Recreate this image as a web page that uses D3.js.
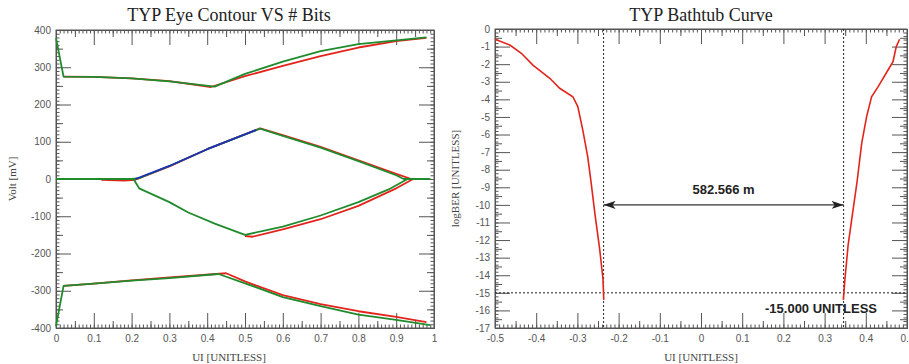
<!DOCTYPE html>
<html>
<head>
<meta charset="utf-8">
<script src="https://cdn.jsdelivr.net/npm/d3@7"></script>
<style>
    body { margin: 0; background: #fff; }
    .tick text { font-family: "Liberation Sans", Arial, sans-serif; font-size: 10px; fill: #555; }
</style>
</head>
<body>
<svg id="chart" width="909" height="364"></svg>
<script>
// eye contour traces, [UI, mV]
const greenTop = [[0, 378], [0.02, 275], [0.1, 274], [0.2, 270], [0.3, 262], [0.42, 248], [0.5, 282], [0.6, 315], [0.7, 343], [0.8, 362], [0.9, 372], [0.98, 380]]
const redTop = [[0.02, 275], [0.1, 274], [0.2, 270], [0.3, 263], [0.41, 247], [0.5, 276], [0.6, 304], [0.7, 330], [0.8, 353], [0.9, 370], [0.98, 379]]
const greenUpper = [[0, 0], [0.2, 0], [0.22, 2], [0.3, 35], [0.4, 80], [0.54, 135], [0.6, 116], [0.7, 84], [0.8, 48], [0.9, 10], [0.92, 0], [0.99, 0]]
const redUpper = [[0.12, -2], [0.18, -4], [0.21, -2], [0.3, 34], [0.4, 80], [0.54, 136], [0.6, 118], [0.7, 86], [0.8, 50], [0.9, 14], [0.94, 0], [0.99, 0]]
const blueUpper = [[0.21, 0], [0.3, 35], [0.4, 80], [0.53, 132]]
const greenLower = [[0.205, 0], [0.22, -25], [0.3, -62], [0.35, -90], [0.42, -120], [0.5, -150], [0.6, -128], [0.7, -98], [0.8, -62], [0.88, -28], [0.93, 0]]
const redLower = [[0.5, -153], [0.52, -155], [0.6, -135], [0.7, -108], [0.8, -72], [0.9, -25], [0.945, 0]]
const greenBottom = [[0, -395], [0.02, -287], [0.1, -281], [0.2, -273], [0.3, -266], [0.43, -255], [0.5, -280], [0.6, -317], [0.7, -341], [0.8, -364], [0.9, -378], [0.99, -392]]
const redBottom = [[0.02, -287], [0.1, -281], [0.2, -272], [0.3, -264], [0.45, -253], [0.5, -275], [0.6, -312], [0.7, -336], [0.8, -355], [0.9, -370], [0.98, -384]]

// bathtub curve, [UI, logBER]
const bathtubLeft = [[-0.5, -0.58], [-0.464, -0.91], [-0.436, -1.38], [-0.408, -2.05], [-0.367, -2.8], [-0.343, -3.37], [-0.311, -3.85], [-0.299, -4.41], [-0.287, -5.74], [-0.275, -7.26], [-0.267, -8.68], [-0.257, -10.6], [-0.246, -12.5], [-0.238, -14.2], [-0.236, -15.4]]
const bathtubRight = [[0.3454, -15.4], [0.3495, -14.2], [0.357, -12.3], [0.3696, -10.2], [0.379, -8.65], [0.39, -6.5], [0.402, -4.98], [0.414, -3.85], [0.43, -3.28], [0.454, -2.33], [0.466, -1.86], [0.474, -1.0], [0.482, -0.58]]
const eyeLeft = -0.2364
const eyeOpening = 0.582566
const eyeRight = eyeLeft + eyeOpening
const berTarget = -15
const arrowLevel = -10

// ticks
const eyeXTicks = [0, 0.1, 0.2, 0.3, 0.4, 0.5, 0.6, 0.7, 0.8, 0.9, 1]
const eyeYTicks = [400, 300, 200, 100, 0, -100, -200, -300, -400]
const bathXTicks = [-0.5, -0.4, -0.3, -0.2, -0.1, 0, 0.1, 0.2, 0.3, 0.4, 0.5]
const bathYTicks = d3.range(0, -18, -1)

const svg = d3.select('#chart')

const COLORS = { red: '#e2251c', green: '#1f8b2d', blue: '#1c30b8' }

// 四周都有刻度，朝内
function drawFrame(g, x, y, opt) {
    const w = x.range()[1] - x.range()[0]
    const h = y.range()[0] - y.range()[1]
    const layers = [
        { xv: opt.xMinor, yv: opt.yMinor, len: 3.5 },
        { xv: opt.xMid, yv: opt.yMid, len: 7 },
        { xv: opt.xMajor, yv: opt.yMajor, len: 15 },
    ]
    layers.forEach((l, i) => {
        const main = i === 2
        g.append('g').attr('transform', `translate(0,${h})`)
            .call(d3.axisBottom(x).tickValues(l.xv).tickSize(-l.len).tickSizeOuter(0)
                .tickPadding(main ? 7 : 0).tickFormat(main ? opt.xFormat : ''))
        g.append('g')
            .call(d3.axisTop(x).tickValues(l.xv).tickSize(-l.len).tickSizeOuter(0).tickFormat(''))
        g.append('g')
            .call(d3.axisLeft(y).tickValues(l.yv).tickSize(-l.len).tickSizeOuter(0)
                .tickPadding(main ? 5 : 0).tickFormat(main ? opt.yFormat : ''))
        g.append('g').attr('transform', `translate(${w},0)`)
            .call(d3.axisRight(y).tickValues(l.yv).tickSize(-l.len).tickSizeOuter(0).tickFormat(''))
    })
    g.selectAll('.tick line').attr('stroke', '#555')
    g.selectAll('.domain').attr('stroke', '#555')
    g.append('rect').attr('width', w).attr('height', h)
        .attr('fill', 'none').attr('stroke', '#555')
}

function titles(cx, plotTop, plotBottom, leftX, title, yTitle) {
    svg.append('text').attr('x', cx).attr('y', 21)
        .attr('text-anchor', 'middle')
        .style('font-family', '"Liberation Serif", "Times New Roman", serif')
        .style('font-size', '18px').attr('fill', '#222')
        .text(title)
    svg.append('text').attr('x', cx).attr('y', 361)
        .attr('text-anchor', 'middle')
        .style('font-family', '"Liberation Serif", serif')
        .style('font-size', '11px').attr('fill', '#444')
        .text('UI [UNITLESS]')
    svg.append('text')
        .attr('transform', `translate(${leftX},${(plotTop + plotBottom) / 2}) rotate(-90)`)
        .attr('text-anchor', 'middle')
        .style('font-family', '"Liberation Serif", serif')
        .style('font-size', '11px').attr('fill', '#444')
        .text(yTitle)
}

// ---------------- 眼图轮廓 ----------------
const eyeX = d3.scaleLinear().domain([0, 1]).range([56, 434])
const eyeY = d3.scaleLinear().domain([-400, 400]).range([328, 30])

const eyeFrame = svg.append('g').attr('transform', `translate(${eyeX.range()[0]},${eyeY.range()[1]})`)
drawFrame(eyeFrame,
    eyeX.copy().range([0, eyeX.range()[1] - eyeX.range()[0]]),
    eyeY.copy().range([eyeY.range()[0] - eyeY.range()[1], 0]), {
        xMajor: eyeXTicks,
        xMid: d3.range(0.05, 1, 0.1),
        xMinor: d3.range(0, 101).map(d => d / 100),
        yMajor: eyeYTicks,
        yMid: d3.range(-350, 400, 100),
        yMinor: d3.range(-400, 401, 10),
        xFormat: d => String(d),
        yFormat: d => String(d),
    })

const eyeLine = d3.line().x(d => eyeX(d[0])).y(d => eyeY(d[1]))
const traces = [
    [redTop, 'red'], [redUpper, 'red'], [redLower, 'red'], [redBottom, 'red'],
    [greenTop, 'green'], [greenUpper, 'green'], [greenLower, 'green'], [greenBottom, 'green'],
    [blueUpper, 'blue'],
]
traces.forEach(([data, c]) => {
    svg.append('path').datum(data)
        .attr('d', eyeLine)
        .attr('fill', 'none')
        .attr('stroke', COLORS[c])
        .attr('stroke-width', 1.8)
        .attr('stroke-linejoin', 'round')
})
titles(229, 30, 328, 16, 'TYP Eye Contour VS # Bits', 'Volt [mV]')

// ---------------- 浴盆曲线 ----------------
const bathX = d3.scaleLinear().domain([-0.5, 0.5]).range([495, 907])
const bathY = d3.scaleLinear().domain([-17, 0]).range([328, 29])

const bathFrame = svg.append('g').attr('transform', `translate(${bathX.range()[0]},${bathY.range()[1]})`)
drawFrame(bathFrame,
    bathX.copy().range([0, bathX.range()[1] - bathX.range()[0]]),
    bathY.copy().range([bathY.range()[0] - bathY.range()[1], 0]), {
        xMajor: bathXTicks,
        xMid: d3.range(-0.45, 0.5, 0.1),
        xMinor: d3.range(-50, 51).map(d => d / 100),
        yMajor: bathYTicks,
        yMid: d3.range(-16.5, 0, 1),
        yMinor: d3.range(-85, 1).map(d => d / 5),
        xFormat: d => String(d),
        yFormat: d => String(d),
    })

// 虚线标记
const dashStyle = sel => sel.attr('stroke', '#222').attr('stroke-width', 1).attr('stroke-dasharray', '2,2')
;[eyeLeft, eyeRight].forEach((v) => {
    svg.append('line')
        .attr('x1', bathX(v)).attr('x2', bathX(v))
        .attr('y1', bathY(0)).attr('y2', bathY(-17))
        .call(dashStyle)
})
svg.append('line')
    .attr('x1', bathX(-0.5)).attr('x2', bathX(0.5))
    .attr('y1', bathY(berTarget)).attr('y2', bathY(berTarget))
    .call(dashStyle)

const bathLine = d3.line().x(d => bathX(d[0])).y(d => bathY(d[1]))
;[bathtubLeft, bathtubRight].forEach((data) => {
    svg.append('path').datum(data)
        .attr('d', bathLine)
        .attr('fill', 'none')
        .attr('stroke', COLORS.red)
        .attr('stroke-width', 1.6)
})

// 双向箭头
svg.append('defs').selectAll('marker')
    .data(['start', 'end'])
    .join('marker')
    .attr('id', d => `arrow-${d}`)
    .attr('viewBox', '0 0 12 8')
    .attr('refX', d => (d === 'end' ? 12 : 0))
    .attr('refY', 4)
    .attr('markerWidth', 12)
    .attr('markerHeight', 8)
    .attr('markerUnits', 'userSpaceOnUse')
    .attr('orient', 'auto')
    .append('path')
    .attr('d', d => (d === 'end' ? 'M0,0 L12,4 L0,8 L3,4 Z' : 'M12,0 L0,4 L12,8 L9,4 Z'))
    .attr('fill', '#222')

const ay = bathY(arrowLevel)
svg.append('line')
    .attr('x1', bathX(eyeLeft)).attr('x2', bathX(eyeRight))
    .attr('y1', ay).attr('y2', ay)
    .attr('stroke', '#333').attr('stroke-width', 1.4)
    .attr('marker-start', 'url(#arrow-start)')
    .attr('marker-end', 'url(#arrow-end)')

svg.append('text')
    .attr('x', (bathX(eyeLeft) + bathX(eyeRight)) / 2)
    .attr('y', ay - 11)
    .attr('text-anchor', 'middle')
    .style('font-family', '"Liberation Sans", Arial, sans-serif')
    .style('font-size', '13px').style('font-weight', 'bold').attr('fill', '#222')
    .text(`${(eyeOpening * 1000).toFixed(3)} m`)

svg.append('text')
    .attr('x', 821)
    .attr('y', bathY(berTarget) + 20)
    .attr('text-anchor', 'middle')
    .style('font-family', '"Liberation Sans", Arial, sans-serif')
    .style('font-size', '13px').style('font-weight', 'bold').attr('fill', '#222')
    .text(`${berTarget.toFixed(3)} UNITLESS`)

titles(701, 29, 328, 459, 'TYP Bathtub Curve', 'logBER [UNITLESS]')
</script>
</body>
</html>
